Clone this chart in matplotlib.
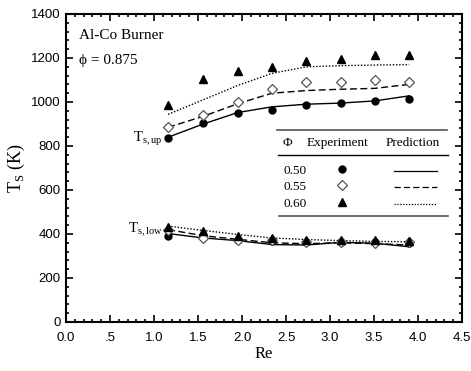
import matplotlib
matplotlib.use("Agg")
import matplotlib.pyplot as plt
from matplotlib.ticker import MultipleLocator, FixedLocator
from matplotlib.lines import Line2D

re = [1.16, 1.56, 1.95, 2.34, 2.73, 3.12, 3.51, 3.90]

# experiment, upper surface
up_050 = [838, 905, 948, 962, 985, 995, 1005, 1015]
up_055 = [885, 940, 1000, 1060, 1090, 1090, 1100, 1090]
up_060 = [985, 1105, 1140, 1160, 1185, 1195, 1215, 1215]
# prediction, upper surface
pu_050 = [840, 900, 952, 978, 990, 995, 1005, 1028]
pu_055 = [885, 935, 992, 1040, 1052, 1058, 1062, 1080]
pu_060 = [944, 1010, 1075, 1130, 1160, 1165, 1168, 1170]

# experiment, lower surface
lo_050 = [392, 390, 375, 370, 362, 365, 362, 360]
lo_055 = [420, 382, 375, 372, 362, 362, 360, 363]
lo_060 = [432, 412, 392, 382, 375, 375, 372, 370]
# prediction, lower surface
pl_050 = [402, 382, 370, 352, 350, 362, 358, 342]
pl_055 = [420, 392, 376, 360, 356, 360, 356, 350]
pl_060 = [436, 416, 398, 382, 375, 370, 366, 365]

phis = ["0.50", "0.55", "0.60"]
xtick_vals = [0.0, 0.5, 1.0, 1.5, 2.0, 2.5, 3.0, 3.5, 4.0, 4.5]
xtick_labels = ["0.0", ".5", "1.0", "1.5", "2.0", "2.5", "3.0", "3.5", "4.0", "4.5"]

serif = "Liberation Serif"
sans = "Liberation Sans"

fig = plt.figure(figsize=(4.71, 3.71), dpi=100)
ax = fig.add_axes([66/471, 1-322/371, 396/471, 308/371])

styles = [dict(ls="-"), dict(ls=(0, (5, 2.5))), dict(ls=(0, (1, 1.3)))]
mk = [dict(marker="o", mfc="black", mec="black", ms=5),
      dict(marker="D", mfc="white", mec="#555555", ms=4.8, mew=0.9),
      dict(marker="^", mfc="black", mec="black", ms=6)]

for pred, st in zip([pu_050, pu_055, pu_060], styles):
    ax.plot(re, pred, color="black", lw=1.0, **st)
for pred, st in zip([pl_050, pl_055, pl_060], styles):
    ax.plot(re, pred, color="black", lw=1.0, **st)
for exp, m in zip([up_050, up_055, up_060], mk):
    ax.plot(re, exp, ls="none", zorder=3, **m)
for exp, m in zip([lo_050, lo_055, lo_060], mk):
    ax.plot(re, exp, ls="none", zorder=3, **m)

ax.set_xlim(0, 4.5)
ax.set_ylim(0, 1400)
ax.xaxis.set_major_locator(FixedLocator(xtick_vals))
ax.set_xticklabels(xtick_labels)
ax.xaxis.set_minor_locator(MultipleLocator(0.1))
ax.yaxis.set_major_locator(MultipleLocator(200))
ax.yaxis.set_minor_locator(MultipleLocator(40))
ax.tick_params(which="both", direction="in", top=True, right=True, width=1.2)
ax.tick_params(which="major", length=5, labelsize=9.5)
ax.tick_params(axis="x", which="major", pad=7)
ax.tick_params(axis="y", which="major", pad=4)
ax.tick_params(which="minor", length=2.5)
for lab in ax.get_xticklabels() + ax.get_yticklabels():
    lab.set_fontfamily(sans)
for sp in ax.spines.values():
    sp.set_linewidth(1.5)

ax.set_xlabel("Re", fontfamily=serif, fontsize=12, labelpad=2)
ax.set_ylabel(r"T$_\mathregular{S}$ (K)", fontfamily=serif, fontsize=13, labelpad=3)

ax.text(0.033, 0.93, "Al-Co Burner", transform=ax.transAxes, fontfamily=serif, fontsize=11, va="center")
ax.text(0.033, 0.85, "\u03d5 = 0.875", transform=ax.transAxes, fontfamily=serif, fontsize=11, va="center")
ax.text(1.10, 835, r"T$_\mathregular{s,up}$", fontfamily=serif, fontsize=10.5, ha="right", va="center")
ax.text(1.10, 420, r"T$_\mathregular{s,low}$", fontfamily=serif, fontsize=10.5, ha="right", va="center")

# table-like legend (in figure pixel coordinates)
def px(x, y):
    return (x/471, 1 - y/371)

def hline(x0, x1, y, color="black", lw=1.0):
    a, b = px(x0, y)
    c, _ = px(x1, y)
    fig.add_artist(Line2D([a, c], [b, b], color=color, lw=lw, transform=fig.transFigure))

hline(277, 447, 130, color="#555555", lw=1.2)
hline(278, 448, 155, color="black", lw=1.0)
hline(279, 448, 216, color="#555555", lw=1.2)

fs = 9.5
fig.text(*px(283, 143), "\u03a6", fontfamily=serif, fontsize=fs, va="center")
fig.text(*px(337, 143), "Experiment", fontfamily=serif, fontsize=fs, va="center", ha="center")
fig.text(*px(413, 143), "Prediction", fontfamily=serif, fontsize=fs, va="center", ha="center")
rows_y = [171, 187, 204]
for phi, yy, m, st in zip(phis, rows_y, mk, styles):
    fig.text(*px(283, yy), phi, fontfamily=serif, fontsize=fs, va="center")
    mx, my = px(342, yy - 2)
    fig.add_artist(Line2D([mx], [my], ls="none", transform=fig.transFigure, **m))
    a, b = px(394, yy)
    c, _ = px(437, yy)
    fig.add_artist(Line2D([a, c], [b, b], color="black", lw=0.9, transform=fig.transFigure, **st))

fig.savefig("out.png", dpi=100)
